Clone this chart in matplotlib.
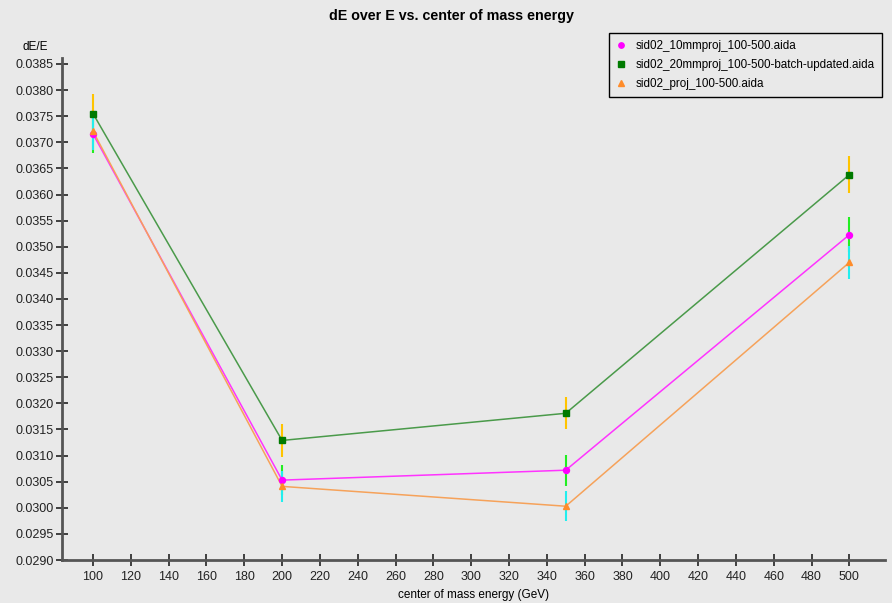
import matplotlib
matplotlib.use("Agg")
import matplotlib.pyplot as plt
from matplotlib.ticker import FormatStrFormatter, MultipleLocator

plt.rcParams['font.family'] = ['Liberation Sans', 'DejaVu Sans']

energy = [100, 200, 350, 500]

# dE/E per file, with errors
de_10mm = [0.03716, 0.03053, 0.03072, 0.03523]
err_10mm = [0.00036, 0.00029, 0.00030, 0.00033]
de_20mm = [0.03755, 0.03129, 0.03181, 0.03638]
err_20mm = [0.00038, 0.00031, 0.00031, 0.00035]
de_proj = [0.03721, 0.03041, 0.03003, 0.03470]
err_proj = [0.00035, 0.00030, 0.00029, 0.00032]

labels = ['sid02_10mmproj_100-500.aida',
          'sid02_20mmproj_100-500-batch-updated.aida',
          'sid02_proj_100-500.aida']

bg = '#e9e9e9'
fig = plt.figure(figsize=(8.92, 6.03), dpi=100, facecolor=bg)
ax = fig.add_axes([0.0695, 0.0713, 0.923, 0.833], facecolor=bg)

series = [
    (de_10mm, err_10mm, labels[0], '#ff33ff', '#ff00ff', '#22ee22', 'o', 4.3),
    (de_20mm, err_20mm, labels[1], '#4a9a4a', '#007a00', '#ffc400', 's', 4.8),
    (de_proj, err_proj, labels[2], '#f6a25a', '#ff8c2a', '#22eeee', '^', 4.8),
]
handles = []
for vals, errs, lab, lc, mc, ec, mk, ms in series:
    ax.errorbar(energy, vals, yerr=errs, fmt='none', ecolor=ec, elinewidth=1.5,
                capsize=0, zorder=2)
    ax.plot(energy, vals, '-', color=lc, lw=1.1, zorder=3)
    h, = ax.plot(energy, vals, linestyle='none', marker=mk, ms=ms, color=mc,
                 label=lab, zorder=4)
    handles.append(h)

ax.set_xlim(83.6, 519)
ax.set_ylim(0.0290, 0.03862)
ax.set_xticks(range(100, 501, 20))
ax.yaxis.set_major_locator(MultipleLocator(0.0005))
ax.yaxis.set_major_formatter(FormatStrFormatter('%.4f'))

for s in ['top', 'right']:
    ax.spines[s].set_visible(False)
for s in ['left', 'bottom']:
    ax.spines[s].set_color('#555555')
    ax.spines[s].set_linewidth(2)
ax.tick_params(direction='inout', length=8, width=1.2, colors='#222222',
               labelsize=9, pad=2)
ax.tick_params(axis='x', pad=4)

ax.set_xlabel('center of mass energy (GeV)', fontsize=8.5, labelpad=4)
fig.text(0.025, 0.917, 'dE/E', fontsize=8.5)
fig.text(0.506, 0.985, 'dE over E vs. center of mass energy', fontsize=10.3,
         fontweight='bold', ha='center', va='top')

leg = ax.legend(handles=handles, loc='upper right', bbox_to_anchor=(0.996, 1.049),
                fontsize=8.4, frameon=True, fancybox=False, edgecolor='black',
                facecolor=bg, framealpha=1, handlelength=0.8, handletextpad=0.9,
                borderpad=0.6, markerscale=0.9, labelspacing=0.6,
                borderaxespad=0)
leg.get_frame().set_linewidth(1)

fig.savefig('out.png', dpi=100, facecolor=bg)
